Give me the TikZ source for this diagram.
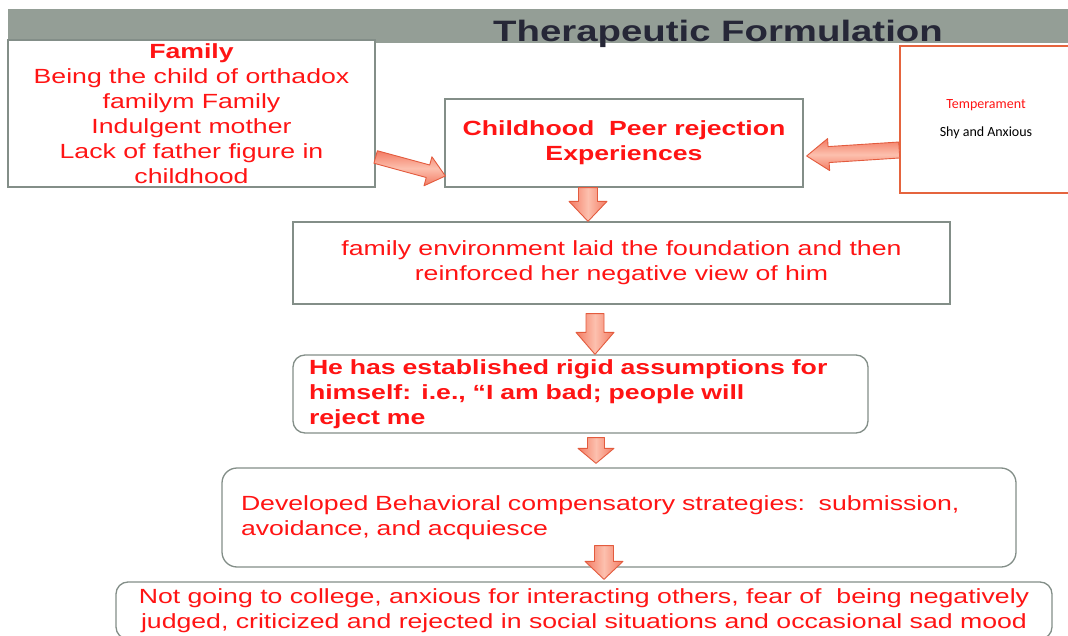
\documentclass[tikz,border=0pt]{standalone}
\usepackage{fontspec}
\usepackage{tikz}
\usetikzlibrary{calc}

\newfontfamily\slidefont[FakeStretch=1.3]{Liberation Sans}
\newfontfamily\calibrifont{Carlito}

\definecolor{bandgray}{HTML}{949E96}
\definecolor{titleink}{HTML}{262737}
\definecolor{boxgray}{HTML}{838E88}
\definecolor{txtred}{HTML}{FF1414}
\definecolor{tempedge}{HTML}{E5643E}
\definecolor{arrowdark}{HTML}{F37A62}
\definecolor{arrowlight}{HTML}{FCC0AE}
\definecolor{arrowedge}{HTML}{E35B3E}

% block arrow: [shade]{from}{to}{shaft half width}{head half width}{head length}
\newcommand{\fatarrow}[6][]{%
  \coordinate (fabase) at ($(#3)!#6!(#2)$);
  \path[fatarrow,#1] ($(#2)!#4!90:(#3)$) -- ($(fabase)!#4!-90:(#2)$)
    -- ($(fabase)!#5!-90:(#2)$) -- (#3) -- ($(fabase)!#5!90:(#2)$)
    -- ($(fabase)!#4!90:(#2)$) -- ($(#2)!#4!-90:(#3)$) -- cycle;
}

\begin{document}
\begin{tikzpicture}[x=1pt, y=-1pt,
  box/.style={draw=boxgray, line width=1.3pt, fill=white, inner sep=0pt,
    font=\slidefont\fontsize{20.5}{25}\selectfont, text=txtred, align=center},
  boldbox/.style={box, font=\slidefont\bfseries\fontsize{20.5}{25}\selectfont},
  roundbox/.style={box, rounded corners=13pt},
  fatarrow/.style={draw=arrowedge, line width=0.9pt, line join=round},
  downshade/.style={left color=arrowdark, right color=arrowdark, middle color=arrowlight},
  sideshade/.style={top color=arrowdark, bottom color=arrowdark, middle color=arrowlight}]

\useasboundingbox (0,0) rectangle (1068,636);
\clip (0,0) rectangle (1068,636);
\fill[white] (0,0) rectangle (1068,636);

% Title band
\fill[bandgray] (8,9) rectangle (1068,43);
\node[font=\slidefont\bfseries\fontsize{29.5}{30}\selectfont, text=titleink, anchor=base]
  (title) at (718,42) {Therapeutic Formulation};

% Boxes
\node[box, minimum width=367pt, minimum height=147pt] (fam) at (191.5,113.5)
  {\textbf{Family}\\Being the child of orthadox\\familym Family\\Indulgent mother\\Lack of father figure in\\childhood};
\node[boldbox, minimum width=358pt, minimum height=88pt] (child) at (624,143)
  {Childhood\ \ Peer rejection\\Experiences};
\node[draw=tempedge, line width=1.5pt, fill=white, inner sep=0pt, minimum width=172pt,
  minimum height=147pt, align=center, font=\calibrifont\fontsize{14}{28}\selectfont]
  (temper) at (986,119.5) {\textcolor{txtred}{Temperament}\\Shy and Anxious};
\node[box, minimum width=657pt, minimum height=82pt] (envbox) at (621.5,263)
  {family environment laid the foundation and then\\reinforced her negative view of him};
\node[boldbox, rounded corners=12pt, minimum width=575pt, minimum height=78pt,
  inner xsep=16pt, text width=543pt, align=left] (assume) at (580.5,394)
  {He has established rigid assumptions for\\himself: i.e., “I am bad; people will\\reject me};
\node[roundbox, rounded corners=15pt, minimum width=794pt, minimum height=99pt,
  inner xsep=19pt, text width=756pt, align=left] (strat) at (619,517.5)
  {Developed Behavioral compensatory strategies:\ \ submission,\\avoidance, and acquiesce};
\node[roundbox, rounded corners=12pt, minimum width=936pt, minimum height=57pt] (result) at (584,610.5)
  {Not going to college, anxious for interacting others, fear of\ \ being negatively\\judged, criticized and rejected in social situations and occasional sad mood};

% Arrow ends
\coordinate (f1) at ([yshift=-43.5pt]fam.east);
\coordinate (f2) at ([xshift=1pt,yshift=-33pt]child.west);
\coordinate (t1) at ([yshift=-30.5pt]temper.west);
\coordinate (t2) at ([xshift=3pt,yshift=-13pt]child.east);
\coordinate (c1) at ([xshift=-36pt]child.south);
\coordinate (c2) at ([xshift=-33.5pt]envbox.north);
\coordinate (e1) at ([xshift=-26.5pt,yshift=-9pt]envbox.south);
\coordinate (e2) at ([xshift=14.5pt]assume.north);
\coordinate (a1) at ([xshift=15.5pt,yshift=-4pt]assume.south);
\coordinate (a2) at ([xshift=-23pt,yshift=4pt]strat.north);
\coordinate (s1) at ([xshift=-15pt,yshift=22pt]strat.south);
\coordinate (s2) at ([xshift=20pt,yshift=2pt]result.north);

% Arrows
\fatarrow[sideshade]{f1}{f2}{6.5pt}{15pt}{18pt}
\fatarrow[sideshade]{t1}{t2}{8pt}{16pt}{22pt}
\fatarrow[downshade]{c1}{c2}{9.5pt}{19pt}{20pt}
\fatarrow[downshade]{e1}{e2}{9pt}{19pt}{22pt}
\fatarrow[downshade]{a1}{a2}{8.5pt}{18pt}{15pt}
\fatarrow[downshade]{s1}{s2}{9.5pt}{19pt}{18pt}
\end{tikzpicture}
\end{document}
